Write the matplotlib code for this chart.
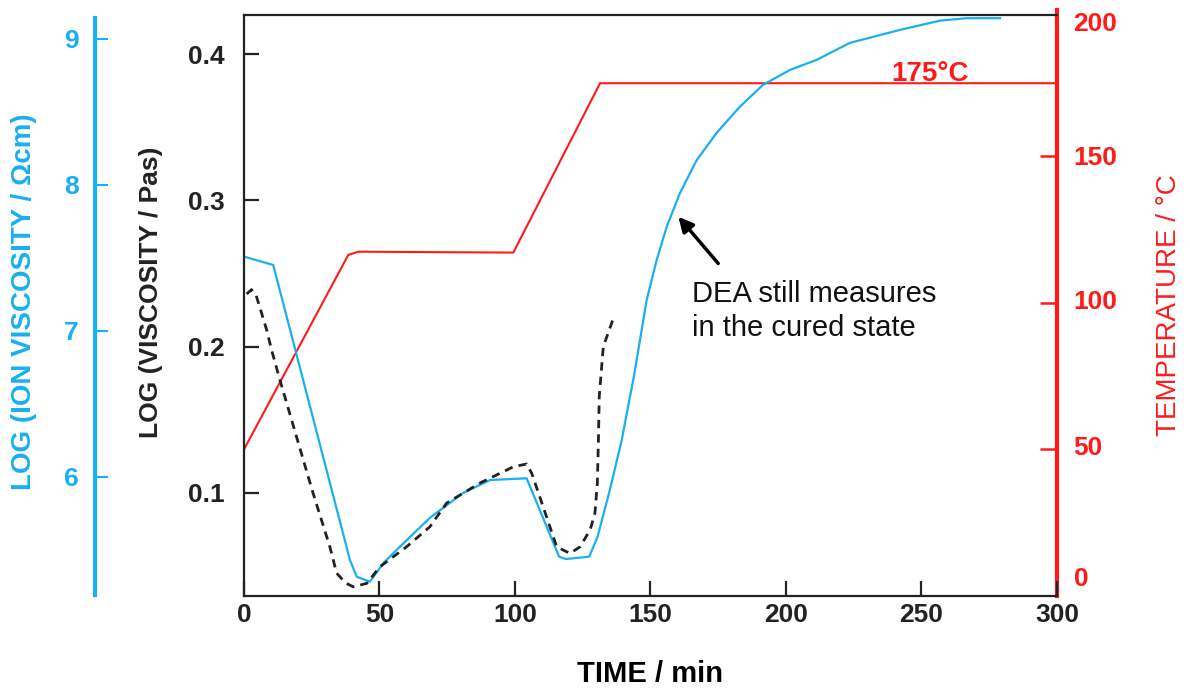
import matplotlib
matplotlib.use('Agg')
from matplotlib import pyplot as plt
import matplotlib.transforms as mtransforms

plt.rcParams['font.family'] = ['Liberation Sans', 'DejaVu Sans']

cyan = '#19aff0'
red = '#ff1a1a'

# datos
t_temp = [0, 38.5, 42.2, 99.4, 131.4, 300]
temp = [50, 116.4, 117.5, 117.2, 175, 175]

t_ion = [0, 10.8, 39.1, 41.6, 46.5, 51.4, 56.3, 68.6, 80.8, 90.8, 104.3, 116.3, 118.8,
         127.4, 130.5, 135.0, 139.4, 144.0, 148.6, 152.3, 156, 160.9, 167.1, 174.4, 183,
         191.5, 201.5, 211.3, 223.6, 242.1, 256.8, 266.7, 279]
ion_visc = [7.509, 7.452, 5.432, 5.317, 5.283, 5.409, 5.500, 5.720, 5.890, 5.979, 5.991,
            5.454, 5.438, 5.454, 5.591, 5.910, 6.253, 6.700, 7.212, 7.486, 7.714, 7.945,
            8.171, 8.356, 8.536, 8.685, 8.788, 8.856, 8.973, 9.062, 9.125, 9.142, 9.142]

t_visc = [1.0, 2.8, 4.5, 6.0, 8.4, 10.2, 13.3, 19.4, 25.5, 31.7, 34.2, 37.5, 40.3, 45.3,
          50.2, 60.0, 68.6, 74.8, 87.1, 99.4, 104.3, 106.2, 110.4, 115.4, 120.3, 124.0,
          127.7, 129.5, 130.4, 130.8, 131.1, 132.6, 136.3]
visc = [0.236, 0.239, 0.235, 0.226, 0.2113, 0.1977, 0.1771, 0.1384, 0.0999, 0.0632,
        0.0452, 0.0385, 0.0359, 0.0382, 0.0496, 0.0632, 0.0769, 0.0931, 0.1068, 0.1179,
        0.1198, 0.1134, 0.0906, 0.0632, 0.0587, 0.0632, 0.0746, 0.0860, 0.1065, 0.1362,
        0.1658, 0.2000, 0.2193]

x_ticks = [0, 50, 100, 150, 200, 250, 300]
visc_ticks = [0.1, 0.2, 0.3, 0.4]
ion_ticks = [6, 7, 8, 9]
temp_ticks = [0, 50, 100, 150, 200]

fig = plt.figure(figsize=(11.9, 6.93), dpi=100)
L, B, W, H = 0.205, 0.140, 0.6832, 0.8384

# eje de temperatura (rojo), un poco mas alto que el marco
axT = fig.add_axes([L, B, W, 0.8456])
axT.patch.set_visible(False)
axT.plot(t_temp, temp, color=red, lw=1.5)
axT.set_xlim(0, 300)
axT.set_ylim(0, 200)
for s in ['left', 'top', 'bottom']:
    axT.spines[s].set_visible(False)
axT.spines['right'].set_color(red)
axT.spines['right'].set_linewidth(3)
axT.yaxis.tick_right()
axT.set_yticks(temp_ticks)
axT.tick_params(axis='y', direction='in', length=12, width=1.8, colors=red, pad=12,
                labelsize=19)
# en el original las etiquetas rojas no estan centradas en las marcas
shift_px = [19, 4, 3, 1, -12]
for lab, d in zip(axT.get_yticklabels(), shift_px):
    lab.set_fontweight('bold')
    lab.set_transform(lab.get_transform() +
                      mtransforms.ScaledTranslation(0, d / 100, fig.dpi_scale_trans))
ticks_T = axT.yaxis.get_major_ticks()
ticks_T[0].tick2line.set_visible(False)
ticks_T[-1].tick2line.set_visible(False)
axT.set_xticks([])
axT.text(253, 175.8, '175°C', color=red, fontsize=20, fontweight='bold',
         ha='center', va='baseline')
fig.text(0.982, 0.56, 'TEMPERATURE / °C', color=red, fontsize=20, rotation=90,
         ha='center', va='center')

# eje de viscosidad ionica (cian)
axI = fig.add_axes([L, B, W, H])
axI.patch.set_visible(False)
axI.plot(t_ion, ion_visc, color=cyan, lw=1.6)
axI.set_xlim(0, 300)
axI.set_ylim(5.185, 9.164)
for s in ['right', 'top', 'bottom']:
    axI.spines[s].set_visible(False)
axI.spines['left'].set_position(('outward', 107))
axI.spines['left'].set_color(cyan)
axI.spines['left'].set_linewidth(3)
axI.spines['left'].set_bounds(5.19, 9.14)
axI.set_yticks(ion_ticks)
axI.tick_params(axis='y', direction='in', length=9, width=1.5, colors=cyan, pad=12,
                labelsize=19)
for lab in axI.get_yticklabels():
    lab.set_fontweight('bold')
axI.set_xticks([])
fig.text(0.020, 0.565, 'LOG (ION VISCOSITY / Ωcm)', color=cyan, fontsize=20,
         fontweight='bold', rotation=90, ha='center', va='center')

# eje principal (viscosidad, negro)
ax = fig.add_axes([L, B, W, H])
ax.patch.set_visible(False)
ax.plot(t_visc, visc, color='#222222', lw=2.0, linestyle=(0, (3, 2.2)))
ax.set_xlim(0, 300)
ax.set_ylim(0.0296, 0.4267)
ax.spines['right'].set_visible(False)
for s in ['left', 'top', 'bottom']:
    ax.spines[s].set_linewidth(1.6)
    ax.spines[s].set_color('#222222')
ax.set_xticks(x_ticks)
ax.set_yticks(visc_ticks)
ax.set_yticklabels(['0.1', '0.2', '0.3', '0.4'])
ax.tick_params(direction='in', length=11, width=1.6, labelsize=19, colors='#222222')
ax.tick_params(axis='y', pad=14)
ax.tick_params(axis='x', pad=5)
for lab in ax.get_xticklabels() + ax.get_yticklabels():
    lab.set_fontweight('bold')
ax.set_xlabel('TIME / min', fontsize=21, fontweight='bold', labelpad=24)
fig.text(0.127, 0.578, 'LOG (VISCOSITY / Pas)', color='#222222', fontsize=19,
         fontweight='bold', rotation=90, ha='center', va='center')

ax.annotate('', xy=(160.3, 0.2888), xytext=(175, 0.2569),
            arrowprops=dict(arrowstyle='-|>', color='black', lw=2.5, mutation_scale=22,
                            shrinkA=0, shrinkB=0))
ax.text(165.3, 0.2455, 'DEA still measures\nin the cured state', fontsize=21,
        ha='left', va='top', linespacing=1.25, color='#111111')

plt.savefig('out.png', dpi=100)
